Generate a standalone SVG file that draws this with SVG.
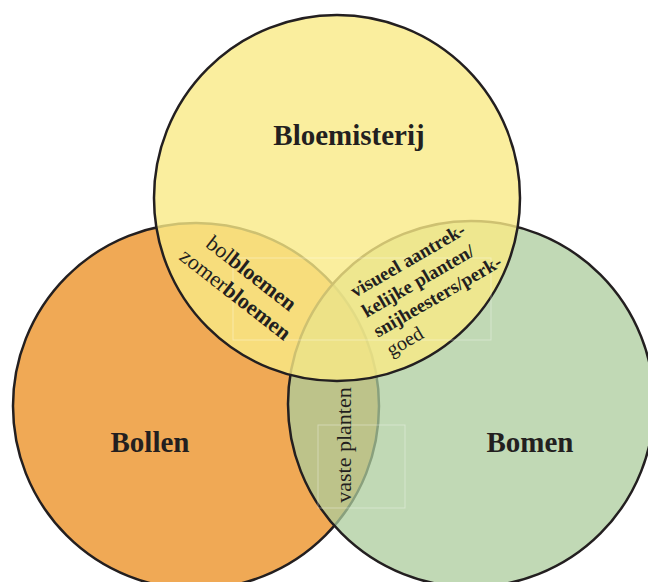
<svg xmlns="http://www.w3.org/2000/svg" width="648" height="582" viewBox="0 0 648 582">
<style>
.c{stroke:#231F20;stroke-width:2.5}
.t{font-family:"Liberation Serif","Times New Roman",serif;fill:#231F20}
.b{font-weight:bold}
.lbl{font-size:29px;font-weight:bold;text-anchor:middle}
.box{fill:none;stroke:#ffffff;stroke-opacity:0.35;stroke-width:1}
</style>
<rect width="648" height="582" fill="#ffffff"/>
<g id="bollen">
<circle class="c" cx="196" cy="406" r="183" fill="#F0A955"/>
</g>
<g id="bomen">
<circle class="c" cx="471" cy="404" r="183" fill="#ACCC9C" fill-opacity="0.75"/>
</g>
<g id="bloemisterij">
<circle class="c" cx="337" cy="198" r="183" fill="#F9EA86" fill-opacity="0.8"/>
</g>
<g id="boxes">
<rect class="box" x="233" y="258" width="258" height="82"/>
<rect class="box" x="318" y="425" width="87" height="83"/>
</g>
<g id="labels">
<text class="t lbl" x="349" y="145">Bloemisterij</text>
<text class="t lbl" x="150" y="452">Bollen</text>
<text class="t lbl" x="530" y="452">Bomen</text>
</g>
<g id="lens-bollen-bloemisterij" class="t" font-size="22" text-anchor="middle">
<text transform="translate(247,279) rotate(38)">bol<tspan class="b">bloemen</tspan></text>
<text transform="translate(231,300) rotate(38)">zomer<tspan class="b">bloemen</tspan></text>
</g>
<g id="lens-bloemisterij-bomen" class="t" font-size="19" transform="translate(355,298) rotate(-30)">
<text class="b" x="0" y="0">visueel aantrek-</text>
<text class="b" x="0" y="23">kelijke planten/</text>
<text class="b" x="0" y="46">snijheesters/perk-</text>
<text x="2" y="69" font-size="20">goed</text>
</g>
<g id="lens-bollen-bomen" class="t" font-size="22" text-anchor="middle">
<text transform="translate(351,445) rotate(-90)">vaste planten</text>
</g>
</svg>
